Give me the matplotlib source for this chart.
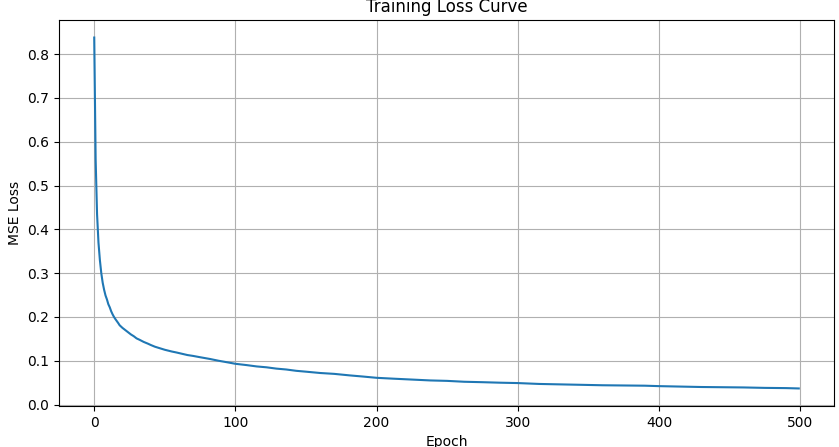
import numpy as np
import matplotlib
matplotlib.use("Agg")
import matplotlib.pyplot as plt

# loss values at selected epochs
epochs = [0, 1, 2, 3, 4, 5, 6, 7, 8, 9, 10, 11, 12, 13, 14, 15, 17, 18, 20, 22,
          24, 26, 28, 30, 32, 35, 38, 40, 43, 46, 50, 55, 58, 62, 66, 70, 75,
          82, 88, 95, 100, 108, 115, 122, 129, 136, 143, 150, 160, 170, 181,
          190, 200, 212, 225, 238, 250, 262, 275, 288, 300, 315, 330, 345,
          360, 375, 390, 400, 415, 430, 445, 460, 475, 490, 499]
loss = [0.838, 0.56, 0.435, 0.37, 0.33, 0.300, 0.278, 0.262, 0.249, 0.240,
        0.229, 0.222, 0.213, 0.206, 0.200, 0.195, 0.186, 0.181, 0.175, 0.170,
        0.165, 0.160, 0.156, 0.151, 0.148, 0.143, 0.139, 0.136, 0.132, 0.129,
        0.125, 0.121, 0.119, 0.116, 0.113, 0.111, 0.108, 0.104, 0.100, 0.096,
        0.093, 0.090, 0.087, 0.085, 0.082, 0.080, 0.077, 0.075, 0.072, 0.070,
        0.0665, 0.064, 0.061, 0.059, 0.057, 0.055, 0.054, 0.052, 0.051, 0.0498,
        0.049, 0.047, 0.046, 0.045, 0.044, 0.0435, 0.043, 0.042, 0.041, 0.040,
        0.0395, 0.039, 0.038, 0.0375, 0.0367]

fig = plt.figure(figsize=(8.39, 4.47), dpi=100)
ax = fig.add_axes([59 / 839, 41 / 447, 775 / 839, 386 / 447])

ax.plot(epochs, loss, color="tab:blue", linewidth=1.5)
ax.set_title("Training Loss Curve")
ax.set_xlabel("Epoch")
ax.set_ylabel("MSE Loss")
ax.grid(True)

fig.savefig("out.png", dpi=100)
plt.close(fig)
